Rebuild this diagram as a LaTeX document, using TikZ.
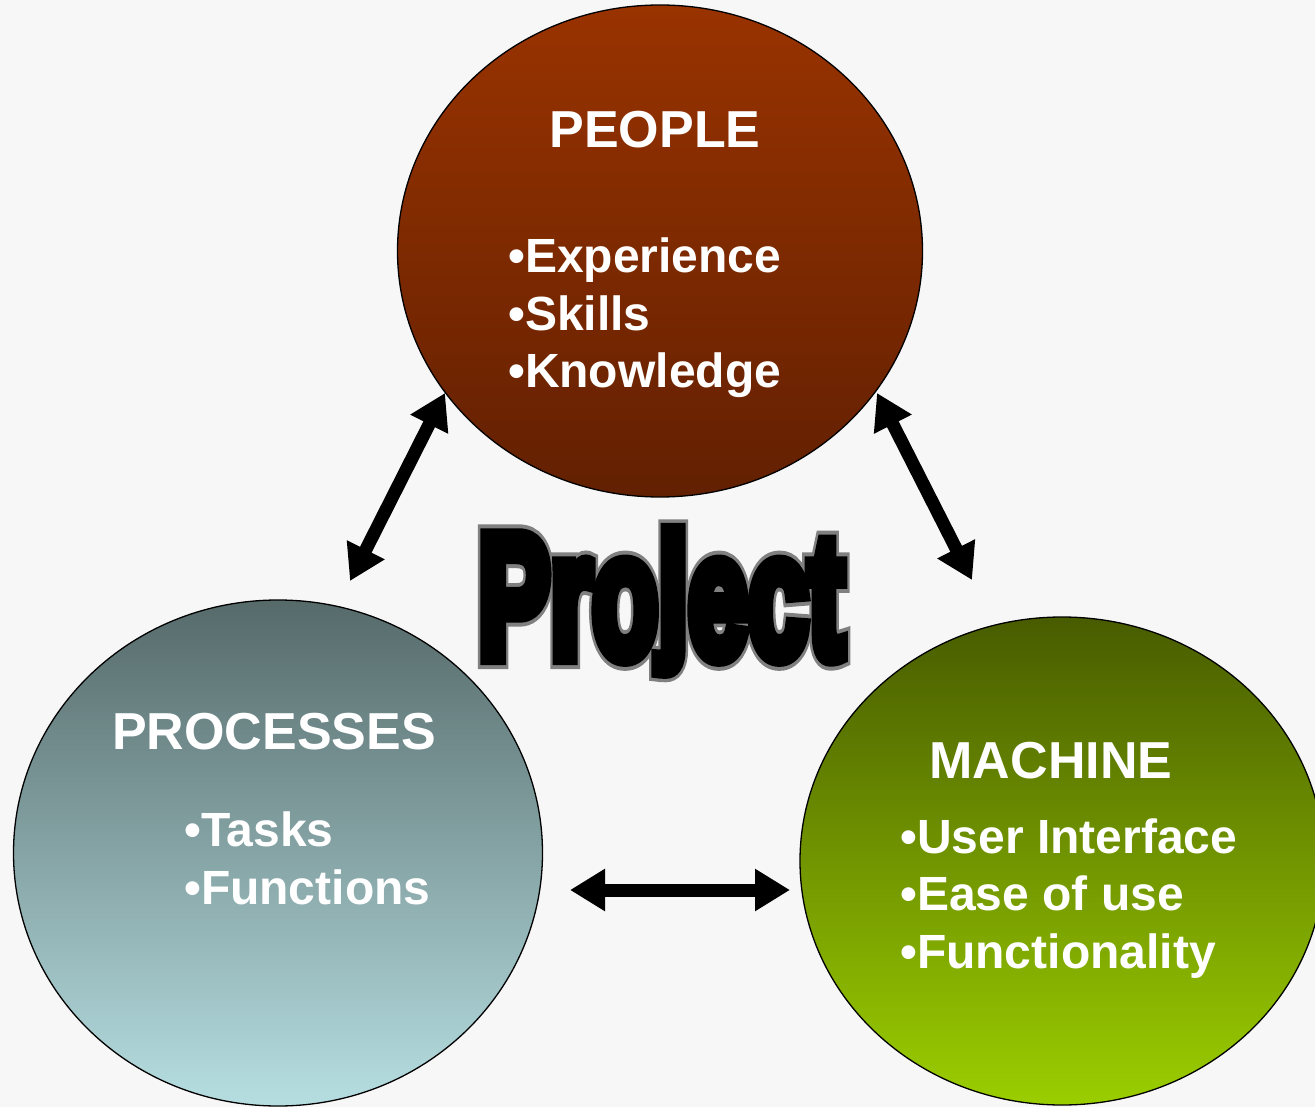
\documentclass[tikz,border=0pt]{standalone}
\usepackage{fontspec}
\setmainfont{Liberation Sans}
\usepackage{graphicx}
\usetikzlibrary{shapes.geometric,arrows.meta}
\definecolor{bgc}{RGB}{247,247,247}
\definecolor{peopleTop}{RGB}{153,51,0}
\definecolor{peopleMid}{RGB}{140,46,0}
\definecolor{peopleBot}{RGB}{98,32,2}
\definecolor{procTop}{RGB}{86,106,106}
\definecolor{procBot}{RGB}{182,222,225}
\definecolor{machTop}{RGB}{72,92,0}
\definecolor{machBot}{RGB}{155,206,0}
\definecolor{outl}{RGB}{128,128,128}
\newcommand{\strokeon}[1]{\special{pdf:literal direct 2 Tr 0 j 3 M #1 w}}
\newcommand{\strokeoff}{\special{pdf:literal direct 0 Tr 0 j 10 M}}
\newcommand{\projword}[1]{\resizebox{366pt}{127pt}{\fontsize{100}{100}\selectfont\bfseries\strokeon{#1}Pro\raisebox{0.096em}{\scalebox{1}[0.868]{j}}ect\strokeoff}}
\tikzset{
  blob/.style={ellipse, draw=black, line width=1.3pt, inner sep=0pt},
  title/.style={text=white, font=\bfseries\fontsize{52}{60}\selectfont, anchor=base, inner sep=0pt},
  item/.style={text=white, font=\bfseries\fontsize{48}{56}\selectfont, anchor=base west, inner sep=0pt},
  dblarrow/.style={line width=13pt, {Triangle[length=35pt,width=40pt]}-{Triangle[length=35pt,width=40pt]}},
  pw/.style={inner sep=0pt, anchor=base west}
}
\begin{document}
\begin{tikzpicture}[x=1pt,y=-1pt]
\useasboundingbox (0,0) rectangle (1315,1107);
\fill[bgc] (0,0) rectangle (1315,1107);
\begin{scope}
\clip (0,0) rectangle (1315,1107);
% circles
\node[blob, minimum width=525pt, minimum height=492pt, top color=peopleTop, middle color=peopleMid, bottom color=peopleBot] (people) at (660,251) {};
\node[blob, minimum width=529pt, minimum height=506pt, top color=procTop, bottom color=procBot] (processes) at (278,853) {};
\node[blob, minimum width=524pt, minimum height=488pt, top color=machTop, bottom color=machBot] (machine) at (1062,861) {};
\end{scope}
% texts
\node[title] (tpeople) at (655,148) {PEOPLE};
\node[item] (p1) at (508,273) {•Experience};
\node[item] (p2) at (508,331) {•Skills};
\node[item] (p3) at (508,388) {•Knowledge};
\node[title] (tproc) at (274,749) {PROCESSES};
\node[item] (r1) at (184,846) {•Tasks};
\node[item] (r2) at (184,904) {•Functions};
\node[title] (tmach) at (1051,778) {MACHINE};
\node[item] (m1) at (900,853) {•User Interface};
\node[item] (m2) at (900,910) {•Ease of use};
\node[item] (m3) at (900,968) {•Functionality};
% Project word: grey outline layer, then black emboldened layer
\node[pw, text=outl] (projectoutline) at (478,657) {\projword{13.8}};
\node[pw, text=black] (project) at (478,657) {\projword{9.3}};
% arrows
\coordinate (aL1) at (445,393);
\coordinate (aL2) at (350,581);
\coordinate (aR1) at (877,393);
\coordinate (aR2) at (972,580);
\coordinate (aB1) at (570,890);
\coordinate (aB2) at (790,890);
\draw[dblarrow] (aL1) -- (aL2);
\draw[dblarrow] (aR1) -- (aR2);
\draw[dblarrow] (aB1) -- (aB2);
\end{tikzpicture}
\end{document}
